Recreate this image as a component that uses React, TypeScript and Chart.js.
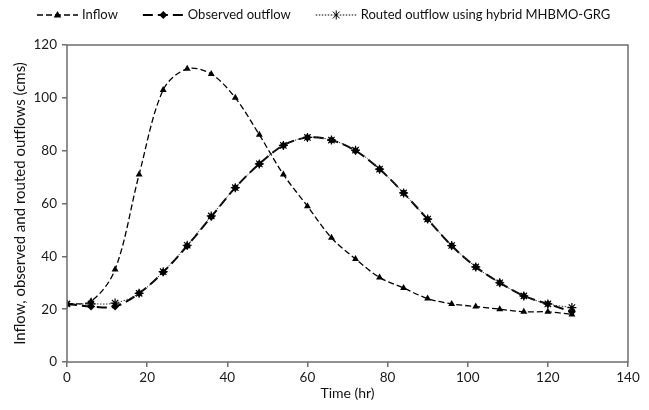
import React, { useEffect, useRef } from "react";
import { Chart, registerables } from "chart.js";

Chart.register(...registerables);

const times = [0, 6, 12, 18, 24, 30, 36, 42, 48, 54, 60, 66, 72, 78, 84, 90, 96, 102, 108, 114, 120, 126];
const inflow = [22, 23, 35, 71, 103, 111, 109, 100, 86, 71, 59, 47, 39, 32, 28, 24, 22, 21, 20, 19, 19, 18];
const observedOutflow = [22, 21, 21, 26, 34, 44, 55, 66, 75, 82, 85, 84, 80, 73, 64, 54, 44, 36, 30, 25, 22, 19];
const routedOutflow = [22, 22, 22.3, 26, 34.2, 44.2, 55.3, 66, 75, 82, 85, 84, 80.2, 73, 64, 54.1, 44.1, 36, 30, 25, 22, 20.6];
const seriesNames = ["Inflow", "Observed outflow", "Routed outflow using hybrid MHBMO-GRG"];
const xTitle = "Time (hr)";
const yTitle = "Inflow, observed and routed outflows (cms)";

const FONT = "Lato, 'DejaVu Sans', sans-serif";

function drawMarker(ctx: CanvasRenderingContext2D, style: string, x: number, y: number, r: number) {
  ctx.save();
  ctx.setLineDash([]);
  ctx.fillStyle = "#000";
  ctx.strokeStyle = "#000";
  ctx.beginPath();
  if (style === "triangle") {
    ctx.moveTo(x, y - r);
    ctx.lineTo(x + r * 0.95, y + r * 0.6);
    ctx.lineTo(x - r * 0.95, y + r * 0.6);
    ctx.closePath();
    ctx.fill();
  } else if (style === "rectRot") {
    ctx.moveTo(x, y - r);
    ctx.lineTo(x + r, y);
    ctx.lineTo(x, y + r);
    ctx.lineTo(x - r, y);
    ctx.closePath();
    ctx.fill();
  } else {
    ctx.lineWidth = 1;
    const d = r * 0.75;
    ctx.moveTo(x - d, y - d);
    ctx.lineTo(x + d, y + d);
    ctx.moveTo(x + d, y - d);
    ctx.lineTo(x - d, y + d);
    ctx.moveTo(x, y - r);
    ctx.lineTo(x, y + r);
    ctx.stroke();
  }
  ctx.restore();
}

const legendPlugin = {
  id: "customLegend",
  afterDraw(chart: any) {
    const ctx: CanvasRenderingContext2D = chart.ctx;
    const items = [
      { name: seriesNames[0], dash: [6, 3], width: 1.3, marker: "triangle", r: 4 },
      { name: seriesNames[1], dash: [10, 5], width: 2, marker: "rectRot", r: 4 },
      { name: seriesNames[2], dash: [1.5, 1.5], width: 1, marker: "star", r: 4.5 },
    ];
    const y = 15;
    let x = 37;
    ctx.save();
    ctx.font = `13px ${FONT}`;
    ctx.textBaseline = "middle";
    ctx.fillStyle = "#111";
    for (const it of items) {
      const len = 41;
      ctx.save();
      ctx.strokeStyle = "#000";
      ctx.lineWidth = it.width;
      ctx.setLineDash(it.dash);
      ctx.beginPath();
      ctx.moveTo(x, y);
      ctx.lineTo(x + len, y);
      ctx.stroke();
      ctx.restore();
      drawMarker(ctx, it.marker, x + len / 2, y, it.r);
      const tx = x + len + 4;
      ctx.fillText(it.name, tx, y);
      x = tx + ctx.measureText(it.name).width + 25;
    }
    ctx.restore();
  },
};

const boxPlugin = {
  id: "plotBox",
  afterDatasetsDraw(chart: any) {
    const { ctx, chartArea } = chart;
    ctx.save();
    ctx.strokeStyle = "#6e6e6e";
    ctx.lineWidth = 1.5;
    ctx.setLineDash([]);
    ctx.strokeRect(chartArea.left, chartArea.top, chartArea.right - chartArea.left, chartArea.bottom - chartArea.top);
    ctx.restore();
  },
};

export default function App() {
  const ref = useRef<HTMLCanvasElement | null>(null);
  useEffect(() => {
    if (!ref.current) return;
    const mk = (vals: number[]) => times.map((t, i) => ({ x: t, y: vals[i] }));
    const chart = new Chart(ref.current, {
      type: "line",
      data: {
        datasets: [
          {
            label: seriesNames[2],
            data: mk(routedOutflow),
            borderColor: "#333",
            borderWidth: 1,
            borderDash: [1.5, 1.5],
            pointStyle: "star",
            pointRadius: 4.5,
            pointBorderWidth: 1.2,
            pointBorderColor: "#000",
            pointBackgroundColor: "#000",
            tension: 0.33,
            fill: false,
            order: 0,
          },
          {
            label: seriesNames[1],
            data: mk(observedOutflow),
            borderColor: "#000",
            borderWidth: 2,
            borderDash: [10, 5],
            pointStyle: "rectRot",
            pointRadius: 4,
            pointBorderWidth: 0,
            pointBackgroundColor: "#000",
            tension: 0.33,
            fill: false,
            order: 1,
          },
          {
            label: seriesNames[0],
            data: mk(inflow),
            borderColor: "#000",
            borderWidth: 1.3,
            borderDash: [6, 3],
            pointStyle: "triangle",
            pointRadius: 4,
            pointBorderWidth: 0,
            pointBackgroundColor: "#000",
            tension: 0.33,
            fill: false,
            order: 2,
          },
        ],
      },
      options: {
        animation: false,
        responsive: true,
        maintainAspectRatio: false,
        layout: { padding: { top: 45, right: 21, left: 0, bottom: 0 } },
        plugins: { legend: { display: false }, tooltip: { enabled: false } },
        scales: {
          x: {
            type: "linear",
            min: 0,
            max: 140,
            ticks: { stepSize: 20, color: "#1a1a1a", font: { family: FONT, size: 13.5 }, padding: 3, maxRotation: 0 },
            grid: { drawOnChartArea: false, drawTicks: true, tickLength: 5, color: "#6e6e6e", lineWidth: 1.5 },
            border: { display: false },
            title: { display: true, text: xTitle, color: "#111", font: { family: FONT, size: 14 }, padding: { top: 0, bottom: 8 } },
            afterFit: (s: any) => { s.height = 48; },
          },
          y: {
            type: "linear",
            min: 0,
            max: 120,
            ticks: { stepSize: 20, color: "#1a1a1a", font: { family: FONT, size: 13.5 }, padding: 5 },
            grid: { drawOnChartArea: false, drawTicks: true, tickLength: 5, color: "#6e6e6e", lineWidth: 1.5 },
            border: { display: false },
            title: { display: true, text: yTitle, color: "#111", font: { family: FONT, size: 15 }, padding: { top: 11, bottom: 0 } },
            afterFit: (s: any) => { s.width = 67; },
          },
        },
      },
      plugins: [legendPlugin, boxPlugin],
    } as any);
    return () => chart.destroy();
  }, []);
  return (
    <div style={{ position: "fixed", left: 0, top: 0, width: 649, height: 410, background: "#fff" }}>
      <canvas ref={ref} />
    </div>
  );
}
